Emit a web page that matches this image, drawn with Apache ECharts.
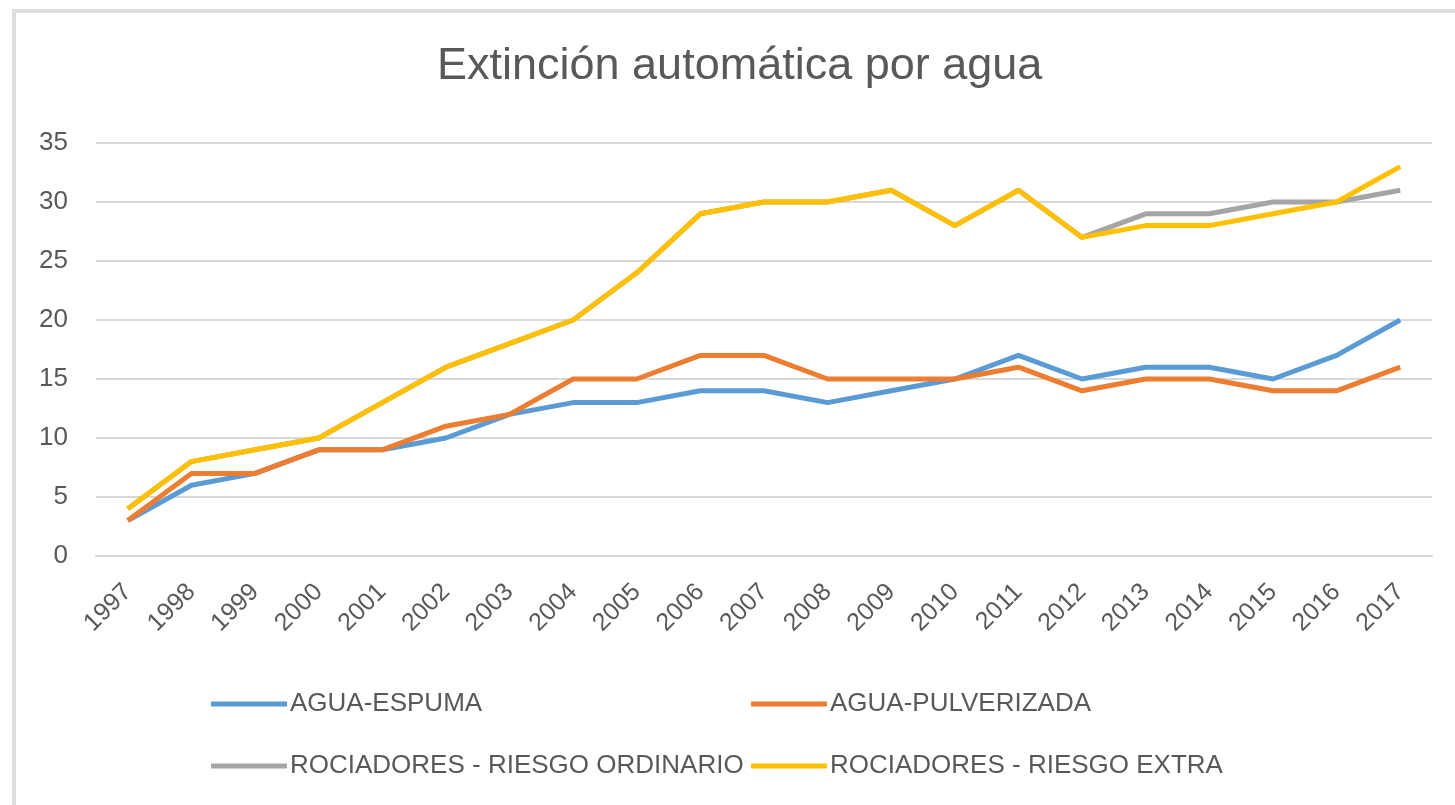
<!DOCTYPE html>
<html>
<head>
<meta charset="utf-8">
<script src="https://cdn.jsdelivr.net/npm/echarts@6/dist/echarts.min.js"></script>
<style>
html,body{margin:0;padding:0;background:#fff;}
#c{width:1455px;height:805px;}
</style>
</head>
<body>
<div id="c"></div>
<script>
const years = ['1997','1998','1999','2000','2001','2002','2003','2004','2005','2006','2007','2008','2009','2010','2011','2012','2013','2014','2015','2016','2017'];
const aguaEspuma = [3,6,7,9,9,10,12,13,13,14,14,13,14,15,17,15,16,16,15,17,20];
const aguaPulverizada = [3,7,7,9,9,11,12,15,15,17,17,15,15,15,16,14,15,15,14,14,16];
const rociadoresOrdinario = [4,8,9,10,13,16,18,20,24,29,30,30,31,28,31,27,29,29,30,30,31];
const rociadoresExtra = [4,8,9,10,13,16,18,20,24,29,30,30,31,28,31,27,28,28,29,30,33];
const names = ['AGUA-ESPUMA','AGUA-PULVERIZADA','ROCIADORES - RIESGO ORDINARIO','ROCIADORES - RIESGO EXTRA'];
const colors = ['#5B9BD5','#ED7D31','#A5A5A5','#FFC000'];
const seriesData = [aguaEspuma, aguaPulverizada, rociadoresOrdinario, rociadoresExtra];

const chart = echarts.init(document.getElementById('c'));
const fontFamily = 'Liberation Sans, Arial, sans-serif';
const legendPos = [[211, 691], [751, 691], [211, 753], [751, 753]];
chart.setOption({
  animation: false,
  backgroundColor: '#fff',
  textStyle: {fontFamily: fontFamily},
  title: {
    text: 'Extinción automática por agua',
    left: 437,
    top: 44,
    padding: 0,
    textStyle: {fontSize: 45, fontWeight: 'normal', color: '#595959', fontFamily: fontFamily}
  },
  legend: names.map((n, i) => ({
    data: [n],
    left: legendPos[i][0],
    top: legendPos[i][1],
    padding: 0,
    icon: 'rect',
    itemWidth: 76,
    itemHeight: 5,
    itemGap: 0,
    textStyle: {fontSize: 26, color: '#595959', padding: [0, 0, 0, -2]}
  })),
  grid: {left: 96, right: 23, top: 143, bottom: 249, containLabel: false, outerBoundsMode: 'none'},
  xAxis: {
    type: 'category',
    data: years,
    boundaryGap: true,
    axisLine: {lineStyle: {color: '#d9d9d9', width: 2}},
    axisTick: {show: false},
    axisLabel: {rotate: 45, fontSize: 25, color: '#595959', margin: 32, interval: 0}
  },
  yAxis: {
    type: 'value',
    min: 0,
    max: 35,
    interval: 5,
    axisLine: {show: false},
    axisTick: {show: false},
    axisLabel: {fontSize: 26, color: '#595959', margin: 28},
    splitLine: {lineStyle: {color: '#d9d9d9', width: 2}}
  },
  series: names.map((n, i) => ({
    name: n,
    type: 'line',
    data: seriesData[i],
    symbol: 'none',
    color: colors[i],
    lineStyle: {width: 5, color: colors[i]},
    z: 2 + i
  })),
  graphic: [
    {type: 'rect', shape: {x: 12, y: 9, width: 4, height: 800}, style: {fill: '#dedede'}, silent: true},
    {type: 'rect', shape: {x: 12, y: 9, width: 1450, height: 4}, style: {fill: '#dedede'}, silent: true}
  ]
});
</script>
</body>
</html>
